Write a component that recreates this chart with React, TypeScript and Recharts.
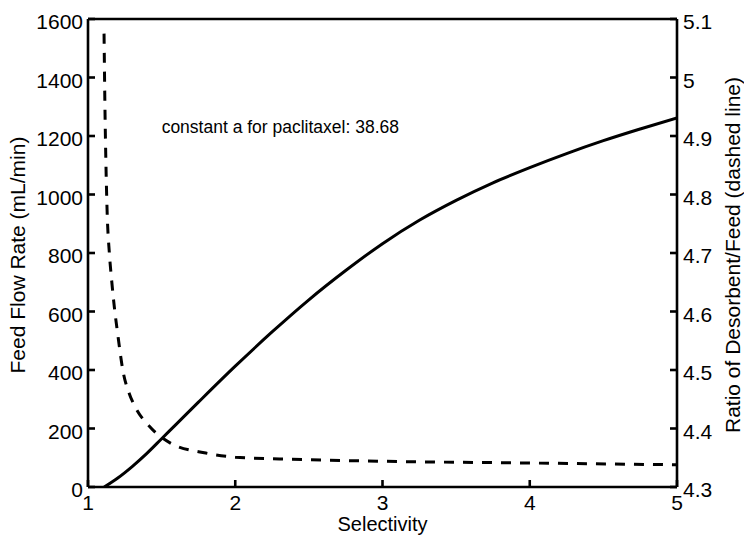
import React from 'react';
import { LineChart, Line, XAxis, YAxis, ReferenceLine, ReferenceDot, Label } from 'recharts';

const xTicks = [1, 2, 3, 4, 5];
const leftTicks = [0, 200, 400, 600, 800, 1000, 1200, 1400, 1600];
const rightTicks = [4.3, 4.4, 4.5, 4.6, 4.7, 4.8, 4.9, 5.0, 5.1];

const feedSelectivity = [1.11, 1.2, 1.3, 1.4, 1.5, 1.6, 1.75, 2.0, 2.25, 2.5, 2.75, 3.0, 3.25, 3.5, 3.75, 4.0, 4.25, 4.5, 4.75, 5.0];
const feedFlow = [0, 30, 70, 115, 165, 215, 290, 413, 530, 640, 740, 832, 912, 980, 1040, 1092, 1140, 1184, 1224, 1262];

const ratioSelectivity = [1.109, 1.115, 1.122, 1.13, 1.145, 1.16, 1.18, 1.2, 1.24, 1.28, 1.32, 1.42, 1.56, 1.8, 2.0, 2.3, 3.0, 4.0, 5.0];
const ratioValues = [5.075, 4.95, 4.85, 4.77, 4.7, 4.655, 4.605, 4.565, 4.495, 4.46, 4.437, 4.403, 4.375, 4.358, 4.351, 4.348, 4.344, 4.341, 4.338];

const annotationText = 'constant a for paclitaxel: 38.68';

const feedData = feedSelectivity.map((s, i) => ({ s, flow: feedFlow[i] }));
const ratioData = ratioSelectivity.map((s, i) => ({ s, ratio: ratioValues[i] }));

const FONT = '"Liberation Sans", Arial, Helvetica, sans-serif';
const FS = 21;
const TFS = 21;
const TICK_LEN = 7;
const LW = 2.6;

const fmtRight = (v: number) => String(Math.round(v * 10) / 10);

const LeftTick = (props: any) => {
  const { x, y, payload } = props;
  const ax = x + 5;
  return (
    <g>
      <line x1={ax} x2={ax + TICK_LEN} y1={y} y2={y} stroke="#000" strokeWidth={LW} />
      <text x={x} y={y + 3} dy="0.35em" textAnchor="end" fontFamily={FONT} fontSize={FS} fill="#000">
        {payload.value}
      </text>
    </g>
  );
};

const RightTick = (props: any) => {
  const { x, y, payload } = props;
  const ax = x - 6;
  return (
    <g>
      <line x1={ax} x2={ax - TICK_LEN} y1={y} y2={y} stroke="#000" strokeWidth={LW} />
      <text x={x} y={y + 3} dy="0.35em" textAnchor="start" fontFamily={FONT} fontSize={FS} fill="#000">
        {fmtRight(payload.value)}
      </text>
    </g>
  );
};

const BottomTick = (props: any) => {
  const { x, y, payload } = props;
  const ay = y - 9;
  return (
    <g>
      <line x1={x} x2={x} y1={ay} y2={ay - TICK_LEN} stroke="#000" strokeWidth={LW} />
      <text x={x} y={y - 1} dy="0.71em" textAnchor="middle" fontFamily={FONT} fontSize={FS} fill="#000">
        {payload.value}
      </text>
    </g>
  );
};

export default function App() {
  return (
    <div style={{ position: 'absolute', left: 0, top: 0, background: '#fff' }}>
      <LineChart width={744} height={543} margin={{ top: 19, right: 0, bottom: 0, left: 0 }}>
        <XAxis
          xAxisId="b"
          type="number"
          dataKey="s"
          domain={[1, 5]}
          ticks={xTicks}
          height={56}
          tickSize={0}
          tickMargin={9}
          tickLine={false}
          axisLine={{ stroke: '#000', strokeWidth: LW }}
          tick={<BottomTick />}
          allowDataOverflow
        >
          <Label
            content={(p: any) => {
              const vb = p.viewBox;
              return (
                <text x={vb.x + vb.width / 2} y={vb.y + 44} textAnchor="middle" fontFamily={FONT} fontSize={20} fill="#000">
                  Selectivity
                </text>
              );
            }}
          />
        </XAxis>
        <YAxis
          yAxisId="l"
          orientation="left"
          type="number"
          domain={[0, 1600]}
          ticks={leftTicks}
          width={88}
          tickSize={0}
          tickMargin={5}
          tickLine={false}
          axisLine={{ stroke: '#000', strokeWidth: LW }}
          tick={<LeftTick />}
          allowDataOverflow
        >
          <Label
            content={(p: any) => {
              const vb = p.viewBox;
              const cx = vb.x + 18;
              const cy = vb.y + vb.height / 2 + 2;
              return (
                <text x={cx} y={cy} dy="0.35em" transform={`rotate(-90 ${cx} ${cy})`} textAnchor="middle" fontFamily={FONT} fontSize={TFS} fill="#000">
                  Feed Flow Rate (mL/min)
                </text>
              );
            }}
          />
        </YAxis>
        <YAxis
          yAxisId="r"
          orientation="right"
          type="number"
          domain={[4.3, 5.1]}
          ticks={rightTicks}
          width={67}
          tickSize={0}
          tickMargin={6}
          tickLine={false}
          axisLine={{ stroke: '#000', strokeWidth: LW }}
          tick={<RightTick />}
          allowDataOverflow
        >
          <Label
            content={(p: any) => {
              const vb = p.viewBox;
              const cx = vb.x + 56;
              const cy = vb.y + vb.height / 2 + 2;
              return (
                <text x={cx} y={cy} dy="0.35em" transform={`rotate(-90 ${cx} ${cy})`} textAnchor="middle" fontFamily={FONT} fontSize={TFS} fill="#000">
                  Ratio of Desorbent/Feed (dashed line)
                </text>
              );
            }}
          />
        </YAxis>
        <ReferenceLine xAxisId="b" yAxisId="l" y={1600} stroke="#000" strokeWidth={LW} ifOverflow="visible" />
        <Line
          xAxisId="b"
          yAxisId="l"
          data={feedData}
          dataKey="flow"
          type="monotone"
          stroke="#000"
          strokeWidth={3}
          dot={false}
          isAnimationActive={false}
        />
        <Line
          xAxisId="b"
          yAxisId="r"
          data={ratioData}
          dataKey="ratio"
          type="monotone"
          stroke="#000"
          strokeWidth={3}
          strokeDasharray="10 9"
          dot={false}
          isAnimationActive={false}
        />
        <ReferenceDot
          xAxisId="b"
          yAxisId="l"
          x={1.5}
          y={1230}
          r={0}
          fill="none"
          stroke="none"
          ifOverflow="visible"
          label={(p: any) => {
            const vb = p.viewBox;
            return (
              <text x={vb.x} y={vb.y} dy="0.35em" textAnchor="start" fontFamily={FONT} fontSize={17.5} fill="#000">
                {annotationText}
              </text>
            );
          }}
        />
      </LineChart>
    </div>
  );
}
